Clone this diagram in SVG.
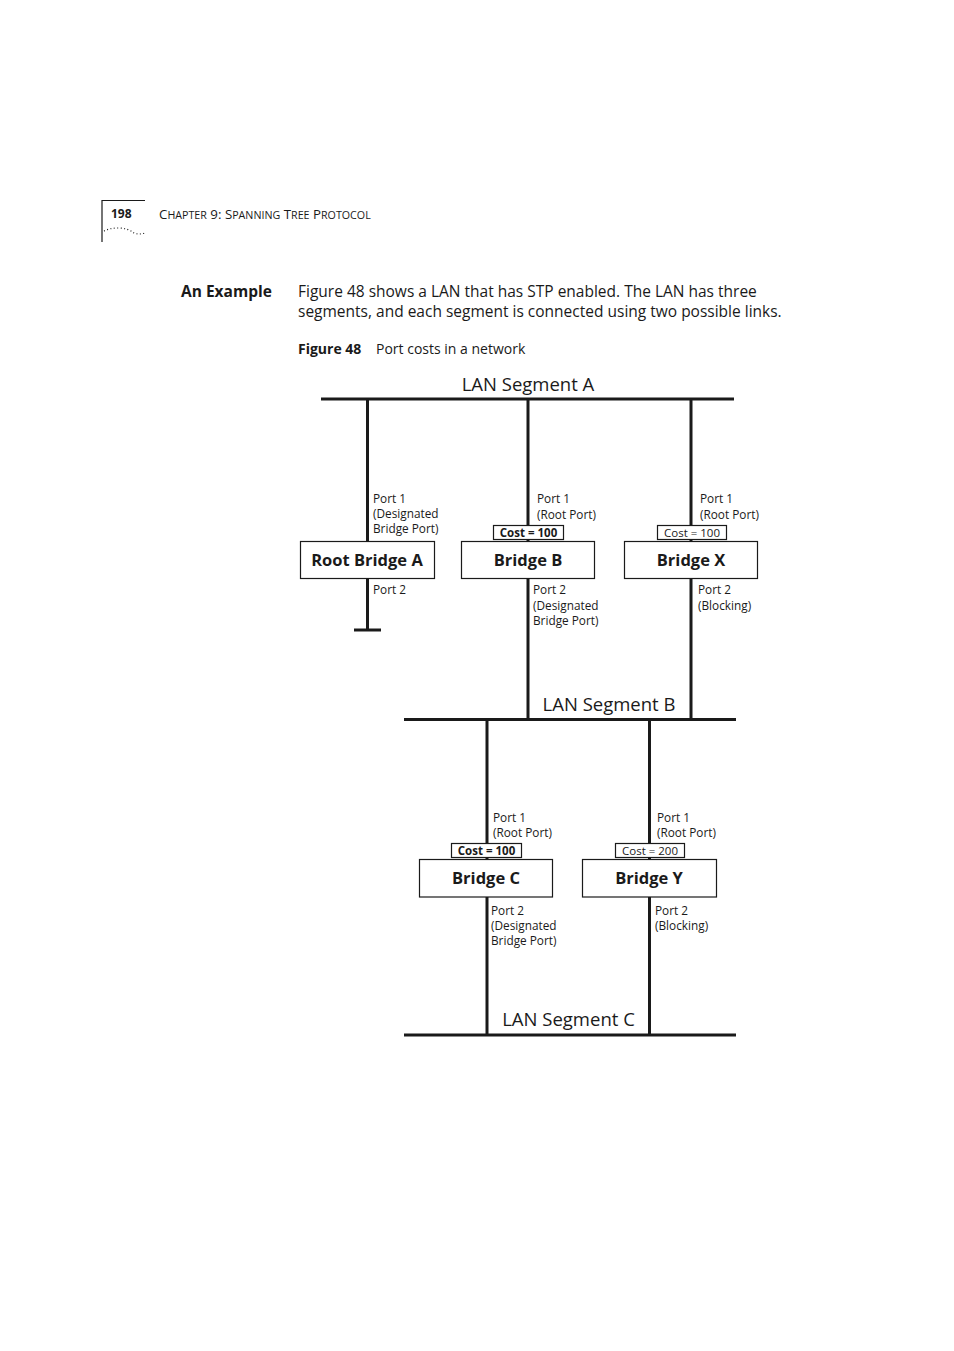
<svg xmlns="http://www.w3.org/2000/svg" width="954" height="1351" viewBox="0 0 954 1351">
<style>
text{font-family:"Open Sans","Noto Sans","Liberation Sans",sans-serif;fill:#1a1a1a}
.body{font-size:15.5px}
.bold{font-weight:bold}
.seg{font-size:18.5px}
.port{font-size:11.8px}
.name{font-size:16.5px;font-weight:bold;text-anchor:middle}
.cost{font-size:11.5px;text-anchor:middle}
.sc{font-size:10.7px}
.bus{stroke:#1a1a1a;stroke-width:3;fill:none}
.link{stroke:#1a1a1a;stroke-width:3;fill:none}
.box{fill:#fff;stroke:#1a1a1a;stroke-width:1.2}
.cbox{fill:#fff;stroke:#1a1a1a;stroke-width:1.2}
</style>
<rect width="954" height="1351" fill="#fff"/>
<g id="header">
<path d="M102 242 V200.5 H145" stroke="#1a1a1a" stroke-width="1.2" fill="none"/>
<path d="M104 231 Q110 228 118 228 Q128 228 134 233 Q139 235 145 233" stroke="#1a1a1a" stroke-width="1.2" fill="none" stroke-dasharray="1 2.4"/>
<text x="111" y="218" font-size="12" class="bold">198</text>
<text x="159" y="219" font-size="13.3">C<tspan class="sc">HAPTER</tspan> 9: S<tspan class="sc">PANNING</tspan> T<tspan class="sc">REE</tspan> P<tspan class="sc">ROTOCOL</tspan></text>
</g>
<g id="intro">
<text x="181" y="297" class="body bold">An Example</text>
<text x="298" y="297" class="body">Figure 48 shows a LAN that has STP enabled. The LAN has three</text>
<text x="298" y="317" class="body">segments, and each segment is connected using two possible links.</text>
<text x="298" y="354" font-size="14" class="bold">Figure 48</text>
<text x="376" y="354" font-size="14">Port costs in a network</text>
</g>
<g id="connectors">
<line class="bus" x1="321" y1="399" x2="734" y2="399"/>
<line class="bus" x1="404" y1="719.5" x2="736" y2="719.5"/>
<line class="bus" x1="404" y1="1035" x2="736" y2="1035"/>
<line class="link" x1="367.5" y1="399" x2="367.5" y2="630"/>
<line class="link" x1="354" y1="630" x2="381" y2="630"/>
<line class="link" x1="528" y1="399" x2="528" y2="719.5"/>
<line class="link" x1="691" y1="399" x2="691" y2="719.5"/>
<line class="link" x1="487" y1="719.5" x2="487" y2="1035"/>
<line class="link" x1="649.5" y1="719.5" x2="649.5" y2="1035"/>
</g>
<g id="segA"><text x="528" y="391" class="seg" text-anchor="middle">LAN Segment A</text></g>
<g id="segB"><text x="609" y="711" class="seg" text-anchor="middle">LAN Segment B</text></g>
<g id="segC"><text x="568.5" y="1026" class="seg" text-anchor="middle">LAN Segment C</text></g>
<g id="rootA">
<text class="port" x="373" y="503">Port 1</text>
<text class="port" x="373" y="518">(Designated</text>
<text class="port" x="373" y="533">Bridge Port)</text>
<rect class="box" x="300.5" y="541.5" width="134" height="37"/>
<text class="name" x="367" y="566">Root Bridge A</text>
<text class="port" x="373" y="594">Port 2</text>
</g>
<g id="bridgeB">
<text class="port" x="537" y="503">Port 1</text>
<text class="port" x="537" y="519">(Root Port)</text>
<rect class="cbox" x="493.5" y="525.5" width="70" height="14"/>
<text class="cost bold" x="528.5" y="536.5">Cost = 100</text>
<rect class="box" x="461.5" y="541.5" width="133" height="37"/>
<text class="name" x="528" y="566">Bridge B</text>
<text class="port" x="533" y="594">Port 2</text>
<text class="port" x="533" y="610">(Designated</text>
<text class="port" x="533" y="625">Bridge Port)</text>
</g>
<g id="bridgeX">
<text class="port" x="700" y="503">Port 1</text>
<text class="port" x="700" y="519">(Root Port)</text>
<rect class="cbox" x="657.5" y="525.5" width="69" height="14"/>
<text class="cost" x="692" y="536.5">Cost = 100</text>
<rect class="box" x="624.5" y="541.5" width="133" height="37"/>
<text class="name" x="691" y="566">Bridge X</text>
<text class="port" x="698" y="594">Port 2</text>
<text class="port" x="698" y="610">(Blocking)</text>
</g>
<g id="bridgeC">
<text class="port" x="493" y="822">Port 1</text>
<text class="port" x="493" y="837">(Root Port)</text>
<rect class="cbox" x="451.5" y="843.5" width="70" height="14"/>
<text class="cost bold" x="486.5" y="854.5">Cost = 100</text>
<rect class="box" x="419.5" y="859.5" width="133" height="37.5"/>
<text class="name" x="486" y="884">Bridge C</text>
<text class="port" x="491" y="915">Port 2</text>
<text class="port" x="491" y="930">(Designated</text>
<text class="port" x="491" y="945">Bridge Port)</text>
</g>
<g id="bridgeY">
<text class="port" x="657" y="822">Port 1</text>
<text class="port" x="657" y="837">(Root Port)</text>
<rect class="cbox" x="615.5" y="843.5" width="69" height="14"/>
<text class="cost" x="650" y="854.5">Cost = 200</text>
<rect class="box" x="582.5" y="859.5" width="134" height="37.5"/>
<text class="name" x="649" y="884">Bridge Y</text>
<text class="port" x="655" y="915">Port 2</text>
<text class="port" x="655" y="930">(Blocking)</text>
</g>
</svg>
